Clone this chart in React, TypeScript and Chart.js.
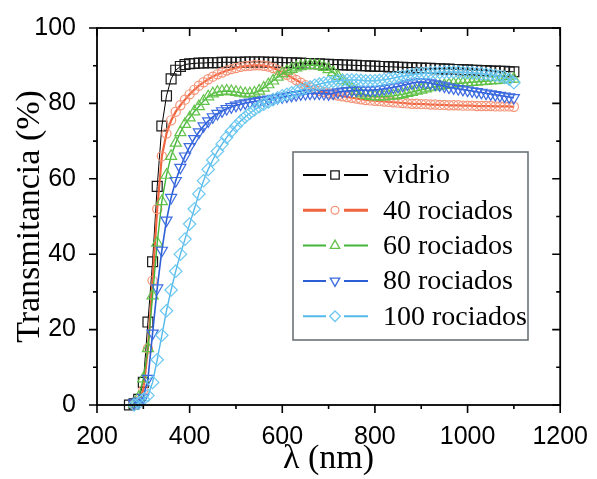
import React, { useEffect, useRef } from 'react';
import { Chart, registerables } from 'chart.js';
import { drawPoint } from 'chart.js/helpers';

Chart.register(...registerables);

const wavelengths = [
  270, 280, 290, 300, 310, 320, 330, 340, 350, 360, 370, 380, 390, 400, 410, 420, 430, 440, 450, 460,
  470, 480, 490, 500, 510, 520, 530, 540, 550, 560, 570, 580, 590, 600, 610, 620, 630, 640, 650, 660,
  670, 680, 690, 700, 710, 720, 730, 740, 750, 760, 770, 780, 790, 800, 810, 820, 830, 840, 850, 860,
  870, 880, 890, 900, 910, 920, 930, 940, 950, 960, 970, 980, 990, 1000, 1010, 1020, 1030, 1040, 1050,
  1060, 1070, 1080, 1090, 1100,
];

const vidrio = [
  0, 0.3, 1.5, 6, 22, 38, 58, 74, 82, 86.5, 88.8, 89.8, 90.3, 90.5, 90.6, 90.7, 90.7, 90.8, 90.8, 90.8,
  90.9, 90.9, 90.9, 90.9, 90.9, 91, 91, 91, 91, 91, 90.9, 90.9, 90.9, 90.8, 90.8, 90.8, 90.7, 90.7, 90.6, 90.6,
  90.5, 90.5, 90.4, 90.4, 90.3, 90.3, 90.2, 90.2, 90.1, 90.1, 90, 90, 89.9, 89.9, 89.8, 89.8, 89.7, 89.7, 89.6, 89.6,
  89.5, 89.5, 89.4, 89.4, 89.3, 89.3, 89.2, 89.2, 89.1, 89.1, 89, 89, 88.9, 88.9, 88.8, 88.8, 88.7, 88.7, 88.6,
  88.6, 88.5, 88.5, 88.4, 88.4,
];

const rociados40 = [
  null, 0.2, 1, 4, 15, 33, 52, 66, 72, 75.5, 77.8, 79.5, 81, 82.4, 83.6, 84.7, 85.6, 86.4, 87.1, 87.7,
  88.2, 88.7, 89.1, 89.4, 89.7, 89.9, 90, 90.1, 90.1, 90, 89.8, 89.4, 88.9, 88.3, 87.6, 86.9, 86.2, 85.5, 84.8, 84.2,
  83.7, 83.3, 83, 82.7, 82.4, 82.1, 81.9, 81.7, 81.5, 81.3, 81.1, 80.9, 80.8, 80.7, 80.6, 80.5, 80.4, 80.3, 80.2, 80.1,
  80, 79.9, 79.9, 79.8, 79.8, 79.7, 79.7, 79.6, 79.6, 79.5, 79.5, 79.5, 79.4, 79.4, 79.4, 79.3, 79.3, 79.3, 79.3,
  79.2, 79.2, 79.2, 79.2, 79.1,
];

const rociados60 = [
  null, 0.3, 2, 7, 15, 29, 43, 54, 61, 66, 69.5, 72.3, 74.5, 76.2, 77.8, 79.2, 80.6, 81.8, 82.6, 83,
  83.2, 83.3, 83.2, 83, 82.8, 82.6, 82.6, 82.8, 83.3, 84.1, 85, 86, 87, 87.9, 88.6, 89.1, 89.5, 89.8, 90, 90.1,
  90.1, 90, 89.6, 89, 88.2, 87.2, 86.1, 85, 84, 83.2, 82.6, 82.2, 81.9, 81.8, 81.8, 81.8, 81.9, 82, 82.2, 82.4,
  82.7, 83, 83.3, 83.6, 83.9, 84.2, 84.4, 84.6, 84.8, 85, 85.2, 85.3, 85.4, 85.5, 85.6, 85.7, 85.8, 85.9, 86,
  86.1, 86.2, 86.3, 86.4, 86.5,
];

const rociados80 = [
  null, 0.5, 1, 2, 7, 19, 31, 41, 49, 55, 59.5, 63, 66, 68.5, 70.6, 72.4, 74, 75.3, 76.4, 77.3,
  78, 78.6, 79.1, 79.5, 79.8, 80.1, 80.3, 80.5, 80.7, 80.9, 81.1, 81.3, 81.5, 81.7, 81.9, 82.1, 82.3, 82.5, 82.6, 82.7,
  82.7, 82.7, 82.6, 82.5, 82.7, 83, 83.2, 83.3, 83.4, 83.5, 83.5, 83.5, 83.5, 83.6, 83.7, 83.9, 84.1, 84.3, 84.5, 84.8,
  85.1, 85.4, 85.6, 85.7, 85.6, 85.4, 85.1, 84.9, 84.6, 84.3, 84.1, 83.9, 83.7, 83.5, 83.3, 83.1, 82.9, 82.7, 82.5,
  82.3, 82.1, 81.9, 81.7, 81.5,
];

const rociados100 = [
  null, 0, 0.5, 1.5, 2.5, 6, 12, 18.5, 25, 30.5, 35.5, 40, 44, 48, 52, 56, 59.5, 62.5, 65, 67.3,
  69.2, 71, 72.6, 74, 75.3, 76.4, 77.4, 78.3, 79.1, 79.8, 80.4, 81, 81.5, 82, 82.4, 82.8, 83.2, 83.6, 84, 84.4,
  84.8, 85.1, 85.4, 85.6, 85.8, 86, 86.1, 86.2, 86.2, 86.2, 86.1, 86, 86, 86, 86.1, 86.3, 86.5, 86.7, 87, 87.2,
  87.4, 87.6, 87.8, 87.9, 88, 88.1, 88.2, 88.2, 88.3, 88.3, 88.3, 88.3, 88.2, 88.2, 88.1, 88, 87.9, 87.8, 87.6,
  87.4, 87.2, 86.9, 86.4, 85.5,
];

const seriesNames = ['vidrio', '40 rociados', '60 rociados', '80 rociados', '100 rociados'];
const seriesValues = [vidrio, rociados40, rociados60, rociados80, rociados100];

const lineColors = ['#000000', '#f0653f', '#43b53b', '#2c5fd6', '#55b9ec'];
const markerColors = ['#1a1a1a', '#f59479', '#63c24a', '#3d6be0', '#6cc8f2'];
const lineWidths = [1, 2.2, 1.4, 1.6, 1.4];
const pointStyles = ['rect', 'circle', 'triangle', 'triangle', 'rectRot'];
const pointRotations = [0, 0, 0, 180, 0];
const pointRadii = [7, 4.6, 6.4, 6.4, 6.2];

const xMin = 200;
const xMax = 1200;
const yMin = 0;
const yMax = 100;

const frameAndLegend = {
  id: 'frameAndLegend',
  afterDatasetsDraw(chart: any) {
    const { ctx, chartArea } = chart;
    const { left, right, top, bottom } = chartArea;
    const xs = chart.scales.x;
    const ys = chart.scales.y;
    ctx.save();
    ctx.strokeStyle = '#000';
    ctx.lineWidth = 1.8;
    ctx.strokeRect(left, top, right - left, bottom - top);
    ctx.lineWidth = 1.6;
    ctx.beginPath();
    for (const t of xs.ticks) {
      const px = xs.getPixelForValue(t.value);
      const len = t.value % 200 === 0 ? 8 : 4;
      ctx.moveTo(px, bottom);
      ctx.lineTo(px, bottom + len);
      ctx.moveTo(px, top);
      ctx.lineTo(px, top + len);
    }
    for (const t of ys.ticks) {
      const py = ys.getPixelForValue(t.value);
      const len = t.value % 20 === 0 ? 8 : 4;
      ctx.moveTo(left, py);
      ctx.lineTo(left - len, py);
      ctx.moveTo(right, py);
      ctx.lineTo(right - len, py);
    }
    ctx.stroke();

    // legend
    const bx = 293;
    const by = 152;
    const bw = 235;
    const bh = 188;
    ctx.fillStyle = '#ffffff';
    ctx.fillRect(bx, by, bw, bh);
    ctx.strokeStyle = '#6b7378';
    ctx.lineWidth = 1.6;
    ctx.strokeRect(bx, by, bw, bh);
    ctx.font = '28px "Liberation Serif", "Times New Roman", serif';
    ctx.textBaseline = 'middle';
    ctx.textAlign = 'left';
    seriesNames.forEach((name, i) => {
      const cy = by + 23 + i * 35.3;
      ctx.strokeStyle = lineColors[i];
      ctx.lineWidth = i === 1 ? 3 : 2;
      ctx.beginPath();
      ctx.moveTo(303, cy);
      ctx.lineTo(326, cy);
      ctx.moveTo(344, cy);
      ctx.lineTo(368, cy);
      ctx.stroke();
      ctx.strokeStyle = markerColors[i];
      ctx.fillStyle = '#ffffff';
      ctx.lineWidth = 1.3;
      drawPoint(ctx, {
        pointStyle: pointStyles[i],
        rotation: pointRotations[i],
        radius: pointRadii[i] * 0.85,
        borderWidth: 1.3,
      } as any, 335, cy);
      ctx.fillStyle = '#000';
      ctx.fillText(name, 383, cy + 1);
    });
    ctx.restore();
  },
};

export default function App() {
  const ref = useRef<HTMLCanvasElement>(null);
  useEffect(() => {
    if (!ref.current) return;
    const datasets = seriesValues.map((vals, i) => ({
      label: seriesNames[i],
      data: wavelengths
        .map((x, k) => ({ x, y: vals[k] }))
        .filter((p) => p.y !== null && p.y !== undefined),
      borderColor: lineColors[i],
      borderWidth: lineWidths[i],
      pointStyle: pointStyles[i],
      pointRotation: pointRotations[i],
      pointRadius: pointRadii[i],
      pointBorderColor: markerColors[i],
      pointBackgroundColor: 'rgba(0,0,0,0)',
      pointBorderWidth: 1.2,
      fill: false,
      tension: 0,
      clip: false as any,
      order: 4 - i,
    }));
    const chart = new Chart(ref.current, {
      type: 'line',
      data: { datasets },
      plugins: [frameAndLegend],
      options: {
        animation: false,
        responsive: false,
        layout: { padding: { top: 21, right: 34, left: 0, bottom: 0 } },
        plugins: { legend: { display: false }, tooltip: { enabled: false } },
        scales: {
          x: {
            type: 'linear',
            min: xMin,
            max: xMax,
            afterFit: (s: any) => { s.height = 74; },
            grid: { display: false },
            border: { display: false },
            ticks: {
              stepSize: 100,
              autoSkip: false,
              maxRotation: 0,
              padding: 9,
              color: '#000',
              font: { family: '"Liberation Sans", Arial, sans-serif', size: 25 },
              callback: (v: any) => (v % 200 === 0 ? String(v) : ''),
            },
            title: {
              display: true,
              text: 'λ (nm)',
              color: '#000',
              font: { family: '"Liberation Serif", "Times New Roman", serif', size: 34 },
              padding: { top: 0, bottom: 0 },
            },
          },
          y: {
            type: 'linear',
            min: yMin,
            max: yMax,
            afterFit: (s: any) => { s.width = 97; },
            grid: { display: false },
            border: { display: false },
            ticks: {
              stepSize: 10,
              autoSkip: false,
              padding: 13,
              color: '#000',
              font: { family: '"Liberation Sans", Arial, sans-serif', size: 25 },
              callback: (v: any) => (v % 20 === 0 ? String(v) : ''),
            },
            title: {
              display: true,
              text: 'Transmitancia (%)',
              color: '#000',
              font: { family: '"Liberation Serif", "Times New Roman", serif', size: 34 },
              padding: { top: 10, bottom: 0 },
            },
          },
        },
      },
    });
    return () => chart.destroy();
  }, []);
  return (
    <div style={{ position: 'fixed', left: 0, top: 0, width: 597, height: 479, background: '#fff' }}>
      <canvas ref={ref} width={597} height={479} />
    </div>
  );
}
